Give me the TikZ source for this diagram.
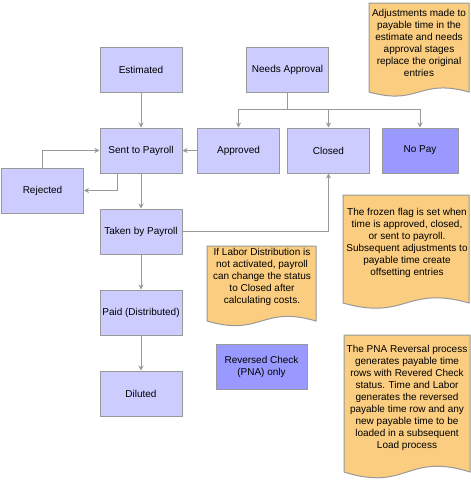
\documentclass[tikz,border=0pt]{standalone}
\usepackage{fontspec}
\setmainfont{Liberation Sans}
\usepackage{xcolor}
\usetikzlibrary{positioning,arrows.meta,calc}
\definecolor{boxblue}{RGB}{204,204,255}
\definecolor{darkblue}{RGB}{153,153,255}
\definecolor{edgegray}{RGB}{153,153,153}
\definecolor{memoorange}{RGB}{250,205,128}

\begin{document}
\begin{tikzpicture}[x=1pt, y=-1pt,
        state/.style={rectangle, draw=edgegray, line width=1pt, fill=boxblue,
                      minimum width=82pt, minimum height=45pt, inner sep=1pt,
                      align=center, font=\fontsize{10}{12}\selectfont},
        hold/.style={state, fill=darkblue},
        memo/.style={draw=edgegray, line width=1pt, fill=memoorange},
        memotext/.style={align=center, inner sep=0pt,
                         font=\fontsize{10}{12}\selectfont},
        flow/.style={edgegray, line width=1pt,
                     -{Stealth[length=5pt,width=5pt]}}
      ]
        \useasboundingbox (0,0) rectangle (471,485);
        % status boxes
        \node[state] at (141,69.5) (est) {Estimated};
        \node[state] at (287.5,69.5) (need) {Needs Approval};
        \node[state] at (141,150.5) (sent) {Sent to Payroll};
        \node[state] at (238.5,150.5) (appr) {Approved};
        \node[state] at (328.5,150.5) (clos) {Closed};
        \node[hold, minimum width=76pt] at (420,150.5) (nopay) {No Pay};
        \node[state] at (42.5,190.5) (rej) {Rejected};
        \node[state] at (141,231.5) (taken) {Taken by Payroll};
        \node[state] at (141,312.5) (paid) {Paid (Distributed)};
        \node[state] at (141,393.5) (dil) {Diluted};
        \node[hold, minimum width=91pt] at (261.5,366.5) (rev)
              {Reversed Check\\(PNA) only};
        % note sheets with wavy bottom
        \foreach \l/\t/\r/\b/\a in {369/3/469/92/7, 343/195/469/303/9,
                                    207/246/316/321/8, 344/335/470/472/10}
          \draw[memo] (\l,\t) -- (\r,\t) -- (\r,\b)
                .. controls ({(\l+\r)/2},{\b-2*\a}) and ({(\l+\r)/2},{\b+2*\a})
                .. (\l,\b) -- cycle;
        \node[memotext] at (419,43) (memoA) {Adjustments made to\\payable time in the\\
              estimate and needs\\approval stages\\replace the original\\entries};
        \node[memotext] at (407,242.5) (memoB) {The frozen flag is set when\\
              time is approved, closed,\\or sent to payroll.\\
              Subsequent adjustments to\\payable time create\\offsetting entries};
        \node[memotext] at (262,277) (memoC) {If Labor Distribution is\\
              not activated, payroll\\can change the status\\to Closed after\\
              calculating costs.};
        \node[memotext] at (407,398) (memoD) {The PNA Reversal process\\
              generates payable time\\rows with Revered Check\\
              status. Time and Labor\\generates the reversed\\
              payable time row and any\\new payable time to be\\
              loaded in a subsequent\\Load process};
        % main line
        \draw[flow] (est) -- (sent);
        \draw[flow] (sent) -- (taken);
        \draw[flow] (taken) -- (paid);
        \draw[flow] (paid) -- (dil);
        % approval split
        \draw[edgegray, line width=1pt] (need.south) -- ++(0,17) coordinate (split);
        \draw[flow] (split) -| (appr.north);
        \draw[flow] (split) -| (clos.north);
        \draw[flow] (split) -| (nopay.north);
        \draw[flow] (appr) -- (sent);
        % rejection loop
        \draw[flow] ([xshift=-24pt]sent.south) |- (rej.east);
        \draw[flow] (rej.north) |- (sent.west);
        % payroll may close
        \draw[flow] (taken.east) -| (clos.south);
      \end{tikzpicture}
\end{document}
